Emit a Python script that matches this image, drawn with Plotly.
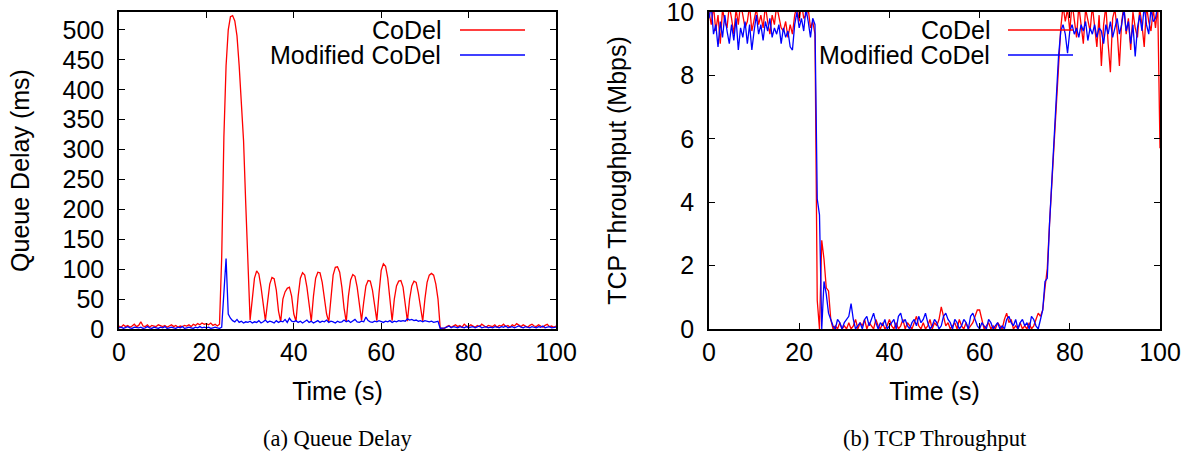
import plotly.graph_objects as go
from plotly.subplots import make_subplots

# sample times, 0.5 s apart, 0..100 s
time_s = [i * 0.5 for i in range(201)]

# queue delay (ms), one row = 5 s
delay_codel = [
    5, 3, 7, 4, 6, 3, 5, 8, 4, 6,
    12, 5, 4, 7, 3, 6, 5, 4, 7, 5,
    4, 6, 3, 5, 7, 4, 6, 3, 5, 4,
    6, 5, 7, 4, 8, 6, 9, 7, 10, 8,
    9, 7, 10, 6, 8, 5, 8, 120, 320, 440,
    500, 522, 524, 515, 490, 440, 380, 315, 210, 100,
    15, 50, 85, 97, 92, 70, 40, 14, 45, 75,
    86, 84, 65, 30, 12, 50, 62, 68, 70, 55,
    25, 13, 55, 85, 94, 90, 70, 40, 13, 55,
    85, 95, 94, 78, 50, 25, 12, 55, 90, 103,
    104, 95, 70, 35, 12, 55, 82, 91, 88, 70,
    40, 14, 45, 72, 81, 80, 65, 40, 14, 60,
    98, 109, 105, 85, 50, 14, 50, 72, 80, 81,
    70, 40, 13, 50, 72, 80, 78, 60, 35, 13,
    50, 78, 90, 93, 90, 75, 50, 2, 1, 1,
    4, 6, 3, 5, 7, 4, 6, 3, 8, 5,
    4, 7, 5, 3, 6, 4, 8, 5, 3, 6,
    5, 4, 7, 3, 6, 5, 8, 4, 6, 3,
    7, 5, 9, 6, 4, 7, 5, 3, 6, 8,
    5, 4, 7, 5, 3, 6, 8, 4, 5, 3,
    5,
]
delay_modified = [
    2, 3, 1, 2, 4, 2, 1, 3, 2, 2,
    3, 1, 2, 4, 2, 1, 3, 2, 1, 3,
    2, 4, 1, 2, 3, 2, 1, 3, 2, 4,
    1, 2, 3, 2, 1, 3, 2, 4, 2, 3,
    2, 3, 1, 2, 3, 2, 1, 3, 60, 118,
    25, 18, 14, 12, 16, 11, 13, 10, 12, 11,
    13, 10, 12, 11, 14, 10, 12, 15, 11, 13,
    12, 10, 14, 11, 13, 12, 16, 11, 18, 13,
    12, 14, 11, 13, 10, 12, 15, 11, 13, 10,
    12, 14, 11, 13, 12, 15, 11, 13, 12, 10,
    13, 11, 12, 15, 12, 14, 11, 13, 16, 12,
    11, 13, 12, 20, 14, 12, 11, 13, 12, 14,
    12, 11, 13, 12, 14, 11, 13, 12, 14, 13,
    14, 13, 17, 15, 16, 14, 15, 13, 14, 12,
    14, 13, 12, 13, 11, 12, 13, 1, 1, 2,
    3, 5, 2, 4, 3, 2, 4, 3, 2, 4,
    2, 3, 4, 2, 3, 5, 2, 3, 4, 2,
    3, 2, 4, 3, 2, 4, 3, 5, 2, 3,
    4, 2, 3, 5, 3, 2, 4, 3, 2, 4,
    3, 2, 4, 3, 5, 2, 3, 4, 2, 3,
    3,
]

# TCP throughput (Mbps), one row = 5 s
tput_codel = [
    10.0, 9.6, 10.2, 9.4, 9.9, 9.0, 10.1, 9.7, 9.5, 10.2,
    9.8, 9.3, 10.1, 9.6, 10.3, 9.9, 9.5, 9.7, 10.2, 9.4,
    9.8, 10.1, 9.6, 9.9, 9.5, 10.2, 9.7, 9.3, 9.9, 9.6,
    10.2, 9.8, 9.5, 9.4, 9.7, 9.2, 9.6, 9.3, 9.9, 10.2,
    9.7, 10.3, 9.8, 9.9, 10.1, 9.5, 9.7, 9.3, 0.9, 0.0,
    2.8, 2.2, 1.3, 1.2, 0.3, 0.0, 0.1, 0.0, 0.2, 0.0,
    0.1, 0.0, 0.2, 0.0, 0.1, 0.3, 0.0, 0.2, 0.1, 0.3,
    0.0, 0.2, 0.1, 0.0, 0.3, 0.1, 0.0, 0.2, 0.0, 0.1,
    0.3, 0.1, 0.0, 0.2, 0.0, 0.1, 0.3, 0.0, 0.2, 0.1,
    0.0, 0.2, 0.4, 0.1, 0.0, 0.2, 0.0, 0.1, 0.3, 0.0,
    0.2, 0.1, 0.3, 0.7, 0.4, 0.1, 0.2, 0.0, 0.1, 0.2,
    0.0, 0.3, 0.1, 0.0, 0.2, 0.0, 0.1, 0.2, 0.4, 0.6,
    0.6, 0.3, 0.0, 0.1, 0.2, 0.0, 0.1, 0.0, 0.2, 0.1,
    0.0, 0.3, 0.5, 0.2, 0.3, 0.0, 0.1, 0.0, 0.2, 0.0,
    0.1, 0.0, 0.2, 0.0, 0.1, 0.3, 0.5, 0.4, 0.6, 1.3,
    1.9, 3.3, 4.6, 5.9, 7.3, 8.6, 9.5, 10.2, 9.7, 10.1,
    9.4, 10.3, 9.8, 9.2, 10.2, 9.6, 9.0, 10.1, 9.7, 9.4,
    10.2, 9.5, 8.9, 9.9, 8.3, 9.6, 10.2, 9.0, 8.1, 9.8,
    10.1, 9.4, 8.3, 9.7, 10.2, 9.3, 9.8, 8.8, 10.0, 9.5,
    9.2, 10.1, 9.6, 8.9, 10.2, 9.7, 9.4, 10.1, 9.5, 10.2,
    5.7,
]
tput_modified = [
    9.8, 10.2, 9.3, 9.6, 8.9, 9.7, 9.2, 9.9, 9.4, 9.0,
    9.6, 9.1, 9.8, 8.8, 9.5, 9.2, 9.7, 9.0, 9.6, 8.8,
    9.4, 9.9, 9.3, 9.6, 9.1, 9.7, 9.4, 9.8, 9.2, 9.5,
    9.3, 9.6, 9.0, 9.5, 9.2, 9.4, 8.9, 8.8, 9.6, 10.0,
    9.5, 9.8, 9.4, 10.1, 9.7, 9.2, 9.8, 9.6, 4.1, 3.6,
    0.0, 1.5, 1.1, 0.5, 0.3, 0.1, 0.0, 0.3, 0.2, 0.0,
    0.2, 0.3, 0.4, 0.8, 0.3, 0.0, 0.1, 0.2, 0.0, 0.3,
    0.4, 0.1, 0.3, 0.5, 0.2, 0.0, 0.2, 0.1, 0.3, 0.0,
    0.1, 0.2, 0.3, 0.0, 0.4, 0.5, 0.2, 0.3, 0.1, 0.0,
    0.2, 0.3, 0.1, 0.4, 0.2, 0.3, 0.5, 0.2, 0.0, 0.1,
    0.3, 0.2, 0.0, 0.1, 0.4, 0.5, 0.3, 0.2, 0.0, 0.3,
    0.2, 0.0, 0.1, 0.3, 0.2, 0.0, 0.4, 0.5, 0.3, 0.1,
    0.0, 0.2, 0.1, 0.0, 0.3, 0.2, 0.0, 0.1, 0.2, 0.0,
    0.1, 0.0, 0.3, 0.4, 0.2, 0.1, 0.3, 0.0, 0.2, 0.3,
    0.1, 0.2, 0.0, 0.4, 0.3, 0.1, 0.0, 0.3, 0.6, 1.5,
    1.6, 3.3, 4.6, 5.9, 7.3, 8.6, 9.4, 9.6, 9.3, 8.7,
    9.4, 9.6, 9.3, 9.5, 9.2, 9.6, 9.4, 9.7, 9.1, 9.5,
    9.3, 9.6, 9.2, 9.5, 9.4, 9.0, 9.6, 9.3, 9.7, 9.2,
    9.5, 9.8, 9.3, 9.6, 10.1, 9.4, 9.7, 9.0, 9.6, 8.6,
    9.5, 9.9, 9.4, 10.2, 9.6, 9.3, 10.1, 9.7, 9.8, 10.2,
    10.0,
]

time_ticks = [0, 20, 40, 60, 80, 100]
delay_ticks = [0, 50, 100, 150, 200, 250, 300, 350, 400, 450, 500]
tput_ticks = [0, 2, 4, 6, 8, 10]

series_names = ["CoDel", "Modified CoDel"]
series_colors = ["#ff0000", "#0000ff"]

W, H = 1190, 452
sans = "Liberation Sans, Arial, Helvetica, sans-serif"
serif = "Liberation Serif, Times New Roman, serif"


def px(x):
    return x / W


def py(y):
    return 1 - y / H


fig = make_subplots(rows=1, cols=2)

for ys, col in [((delay_codel, delay_modified), 1), ((tput_codel, tput_modified), 2)]:
    for k in range(2):
        fig.add_trace(
            go.Scatter(
                x=time_s,
                y=ys[k],
                mode="lines",
                name=series_names[k],
                line=dict(color=series_colors[k], width=1.3),
                showlegend=False,
            ),
            row=1,
            col=col,
        )

axis_style = dict(
    showline=True,
    linecolor="black",
    linewidth=1.5,
    mirror="ticks",
    ticks="inside",
    ticklen=6,
    tickwidth=1.2,
    tickcolor="black",
    showgrid=False,
    zeroline=False,
    automargin=False,
    ticklabeloverflow="allow",  # "10" sits at the very top of the page
    tickfont=dict(family=sans, size=25, color="black"),
    title_font=dict(family=sans, size=25, color="black"),
)

fig.update_xaxes(axis_style, range=[0, 100], tickvals=time_ticks, ticklabelstandoff=0,
                 title_text="Time (s)", title_standoff=18)
fig.update_xaxes(domain=[px(119), px(556)], row=1, col=1)
fig.update_xaxes(domain=[px(709), px(1160)], row=1, col=2)
fig.update_yaxes(axis_style, ticklabelstandoff=8)
fig.update_yaxes(domain=[py(329), py(12)], range=[0, 530], tickvals=delay_ticks,
                 title_text="Queue Delay (ms)", title_standoff=26, row=1, col=1)
fig.update_yaxes(domain=[py(329), py(12)], range=[0, 10], tickvals=tput_ticks,
                 title_text="TCP Throughput (Mbps)", title_standoff=33, row=1, col=2)

# gnuplot style key: text right-aligned, line sample to its right
annotations = []
shapes = []
for text_right, line_x0, line_x1 in [(443, 460, 525), (992, 1008, 1073)]:
    for k, yk in enumerate([30, 55]):
        annotations.append(dict(
            x=px(text_right), y=py(yk), xref="paper", yref="paper",
            xanchor="right", yanchor="middle", showarrow=False, height=24,
            text=series_names[k], font=dict(family=sans, size=25, color="black"),
        ))
        shapes.append(dict(
            type="line", xref="paper", yref="paper",
            x0=px(line_x0), x1=px(line_x1), y0=py(yk), y1=py(yk),
            line=dict(color=series_colors[k], width=1.3),
        ))

for cx, cap in [(337, "(a) Queue Delay"), (935, "(b) TCP Throughput")]:
    annotations.append(dict(
        x=px(cx), y=py(438), xref="paper", yref="paper",
        xanchor="center", yanchor="middle", showarrow=False,
        text=cap, font=dict(family=serif, size=22.5, color="black"),
    ))

fig.update_layout(
    width=W,
    height=H,
    margin=dict(l=0, r=0, t=0, b=0),
    paper_bgcolor="white",
    plot_bgcolor="white",
    annotations=annotations,
    shapes=shapes,
)

# the page's default 8px body margin would shift the figure
fig.write_html("out.html", config={"displayModeBar": False},
               post_script="document.body.style.margin='0';")
